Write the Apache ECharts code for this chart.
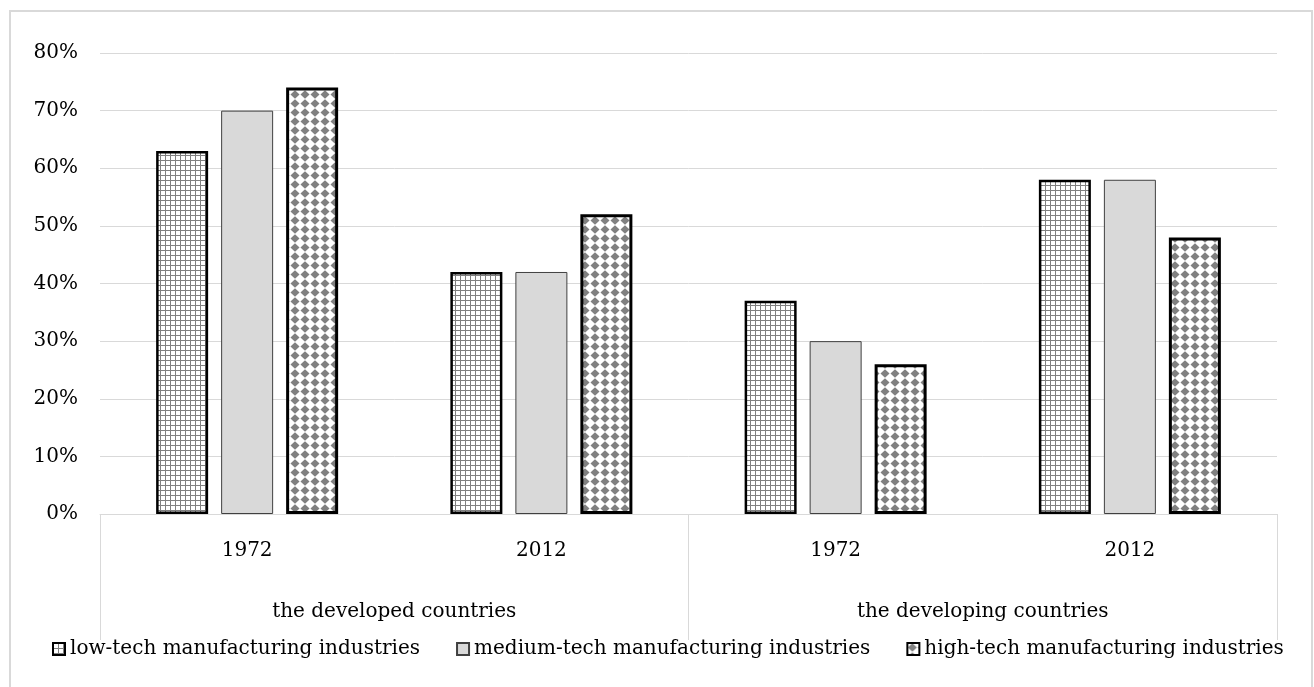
<!DOCTYPE html>
<html>
<head>
<meta charset="utf-8">
<script src="https://cdn.jsdelivr.net/npm/echarts@6/dist/echarts.min.js"></script>
<style>
html,body{margin:0;padding:0;background:#fff;}
#chart{width:1314px;height:687px;}
</style>
</head>
<body>
<div id="chart"></div>
<script>
// ---- data ----
const categories = ['1972', '2012', '1972', '2012'];
const groups = ['the developed countries', 'the developing countries'];
const seriesNames = ['low-tech manufacturing industries', 'medium-tech manufacturing industries', 'high-tech manufacturing industries'];
const lowTech = [63, 42, 37, 58];
const mediumTech = [70, 42, 30, 58];
const highTech = [74, 52, 26, 48];
const yTicks = [0, 10, 20, 30, 40, 50, 60, 70, 80];

// ---- patterns ----
function gridPattern() {
  const c = document.createElement('canvas');
  c.width = 5; c.height = 5;
  const g = c.getContext('2d');
  g.fillStyle = '#ffffff'; g.fillRect(0, 0, 5, 5);
  g.fillStyle = '#808080';
  g.fillRect(0, 0, 5, 1);
  g.fillRect(0, 0, 1, 5);
  return c;
}
function diamondPattern() {
  const c = document.createElement('canvas');
  c.width = 10; c.height = 9;
  const g = c.getContext('2d');
  g.fillStyle = '#ffffff'; g.fillRect(0, 0, 10, 9);
  g.fillStyle = '#808080';
  g.beginPath();
  g.moveTo(5, 0.3); g.lineTo(9.5, 4.5); g.lineTo(5, 8.7); g.lineTo(0.5, 4.5); g.closePath();
  g.fill();
  return c;
}

const FONT = 'DejaVu Serif';
const chart = echarts.init(document.getElementById('chart'), null, {renderer: 'canvas'});

const option = {
  backgroundColor: '#ffffff',
  animation: false,
  graphic: [{
    type: 'rect', silent: true, z: -1,
    shape: {x: 10, y: 11, width: 1302, height: 700},
    style: {fill: 'none', stroke: '#d9d9d9', lineWidth: 2}
  }],
  grid: {left: 100, right: 37, top: 53, bottom: 173, containLabel: false},
  legend: {
    top: 634, left: 47,
    itemWidth: 12, itemHeight: 12, itemGap: 36,
    icon: 'rect',
    textStyle: {fontFamily: FONT, fontSize: 20, color: '#000'},
    data: seriesNames
  },
  xAxis: [{
    type: 'category', data: categories, position: 'bottom',
    axisLine: {show: true, lineStyle: {color: '#d9d9d9', width: 1}},
    axisTick: {show: false},
    axisLabel: {margin: 27, fontFamily: FONT, fontSize: 20, color: '#000', interval: 0}
  }, {
    type: 'category', data: groups, position: 'bottom', gridIndex: 0,
    axisLine: {show: false},
    axisTick: {show: true, length: 126, interval: 0, lineStyle: {color: '#d9d9d9', width: 1}},
    axisLabel: {margin: 88, fontFamily: FONT, fontSize: 20, color: '#000', interval: 0}
  }],
  yAxis: {
    type: 'value', min: yTicks[0], max: yTicks[yTicks.length - 1], interval: 10,
    axisLine: {show: false}, axisTick: {show: false},
    axisLabel: {margin: 22, fontFamily: FONT, fontSize: 20, color: '#000', formatter: '{value}%'},
    splitLine: {lineStyle: {color: '#d9d9d9', width: 1}}
  },
  series: [{
    name: seriesNames[0], type: 'bar', data: lowTech, xAxisIndex: 0,
    barWidth: 52, barGap: '25%',
    itemStyle: {color: {image: gridPattern(), repeat: 'repeat'}, borderColor: '#000', borderWidth: 2.5}
  }, {
    name: seriesNames[1], type: 'bar', data: mediumTech, xAxisIndex: 0,
    barWidth: 52, barGap: '25%',
    itemStyle: {color: '#d9d9d9', borderColor: '#404040', borderWidth: 1}
  }, {
    name: seriesNames[2], type: 'bar', data: highTech, xAxisIndex: 0,
    barWidth: 52, barGap: '25%',
    itemStyle: {color: {image: diamondPattern(), repeat: 'repeat'}, borderColor: '#000', borderWidth: 3}
  }]
};
chart.setOption(option);
</script>
</body>
</html>
